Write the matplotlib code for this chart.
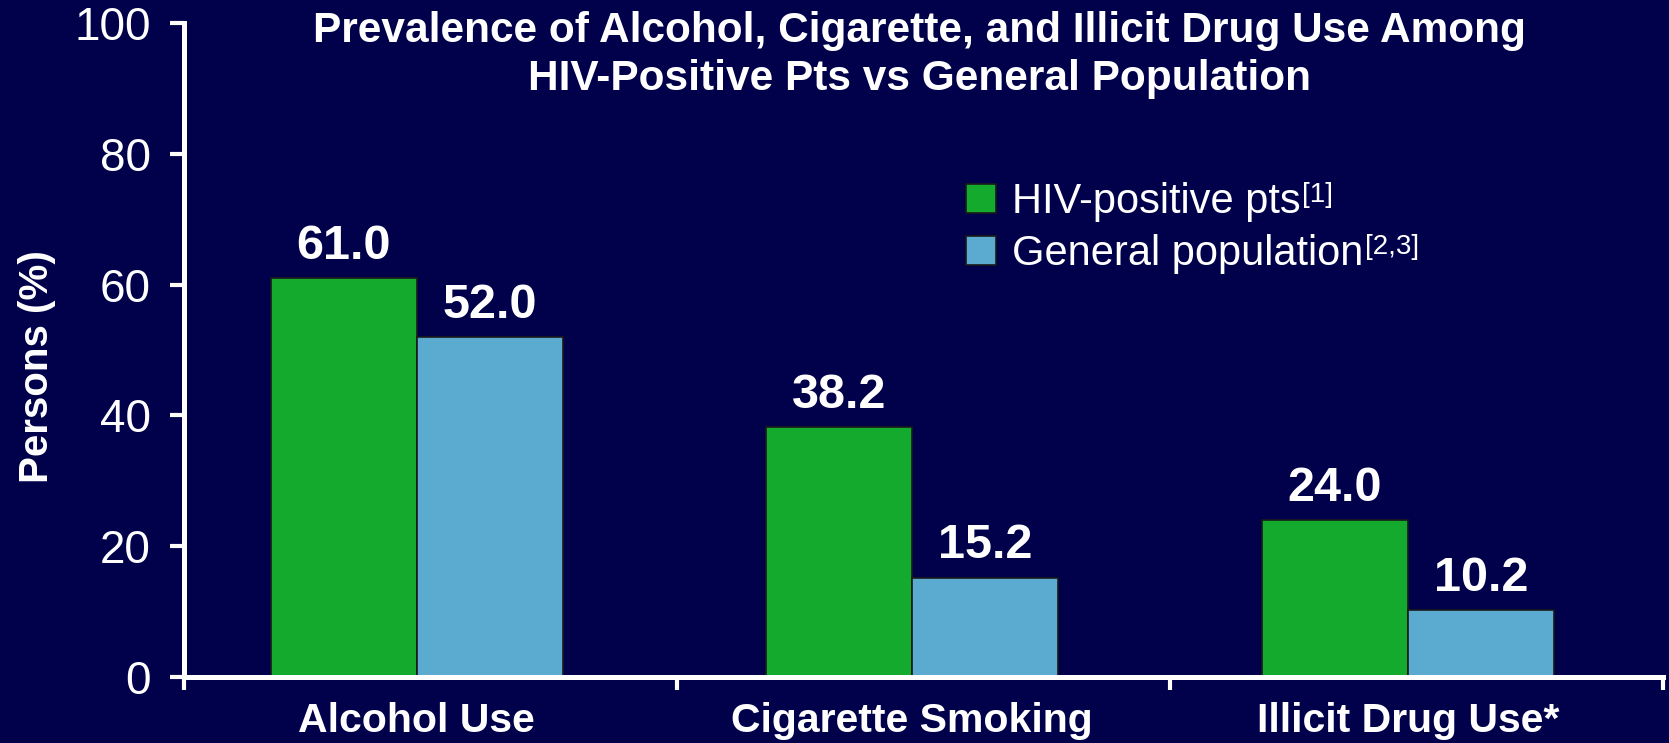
import matplotlib
matplotlib.use("Agg")
import matplotlib.pyplot as plt
import numpy as np

# data
categories = ["Alcohol Use", "Cigarette Smoking", "Illicit Drug Use*"]
series_names = ["HIV-positive pts", "General population"]
series_refs = ["[1]", "[2,3]"]
hiv_pts = [61.0, 38.2, 24.0]
general_pop = [52.0, 15.2, 10.2]
y_ticks = [0, 20, 40, 60, 80, 100]

bg = "#00004B"
green = "#14AA2E"
blue = "#5BABD0"

plt.rcParams["font.family"] = ["Liberation Sans", "DejaVu Sans"]

fig = plt.figure(figsize=(16.69, 7.43), dpi=100, facecolor=bg)
ax = fig.add_axes([0.1102, 0.0888, 0.8862, 0.8802])
ax.set_facecolor(bg)

x = np.arange(len(categories))
w = 0.295
b1 = ax.bar(x - w / 2, hiv_pts, w, color=green, edgecolor="#1a1a1a", linewidth=1.2,
            label=series_names[0])
b2 = ax.bar(x + w / 2, general_pop, w, color=blue, edgecolor="#1a1a1a", linewidth=1.2,
            label=series_names[1])

for bars, vals in [(b1, hiv_pts), (b2, general_pop)]:
    for r, v in zip(bars, vals):
        ax.annotate(f"{v:.1f}", (r.get_x() + r.get_width() / 2, v),
                    xytext=(0, 14), textcoords="offset points",
                    ha="center", va="baseline", color="white",
                    fontsize=35, fontweight="bold")

ax.set_xlim(-0.47, 2.515)
ax.set_ylim(0, 100)

# spines
for s in ["top", "right"]:
    ax.spines[s].set_visible(False)
for s in ["left", "bottom"]:
    ax.spines[s].set_color("white")
    ax.spines[s].set_linewidth(3.6)

ax.set_yticks(y_ticks)
ax.tick_params(axis="y", colors="white", labelsize=33, length=10, width=3, pad=14)

# boundary ticks on x, category names as minor labels
ax.set_xticks([-0.47, 0.525, 1.52, 2.515])
ax.set_xticklabels([])
ax.tick_params(axis="x", which="major", colors="white", length=9, width=3)
ax.set_xticks(x, minor=True)
ax.set_xticklabels(categories, minor=True, fontsize=29.5, fontweight="bold")
ax.tick_params(axis="x", which="minor", length=0, pad=18, labelcolor="white")

ax.set_ylabel("Persons (%)", color="white", fontsize=29, fontweight="bold")
ax.yaxis.set_label_coords(-0.099, 0.475)
ax.yaxis.label.set_verticalalignment("center")

fig.text(0.551, 0.9256, "Prevalence of Alcohol, Cigarette, and Illicit Drug Use Among\nHIV-Positive Pts vs General Population",
         ha="center", va="center", color="white", fontsize=30.5, fontweight="bold",
         linespacing=1.25)

leg = ax.legend(loc="upper left", bbox_to_anchor=(0.529, 0.757), frameon=False,
                fontsize=30, labelcolor="white", handlelength=0.7, handleheight=0.7,
                handletextpad=0.4, labelspacing=0.3, borderaxespad=0, borderpad=0)

# reference markers as raised superscripts after the legend labels
fig.canvas.draw()
inv = fig.transFigure.inverted()
for txt, ref in zip(leg.get_texts(), series_refs):
    bb = txt.get_window_extent()
    base_y = txt.get_transform().transform(txt.get_position())[1]
    fx, fy = inv.transform((bb.x1 + 1, base_y + 11))
    fig.text(fx, fy, ref, ha="left", va="baseline", color="white", fontsize=20)

fig.savefig("out.png", dpi=100, facecolor=bg)
